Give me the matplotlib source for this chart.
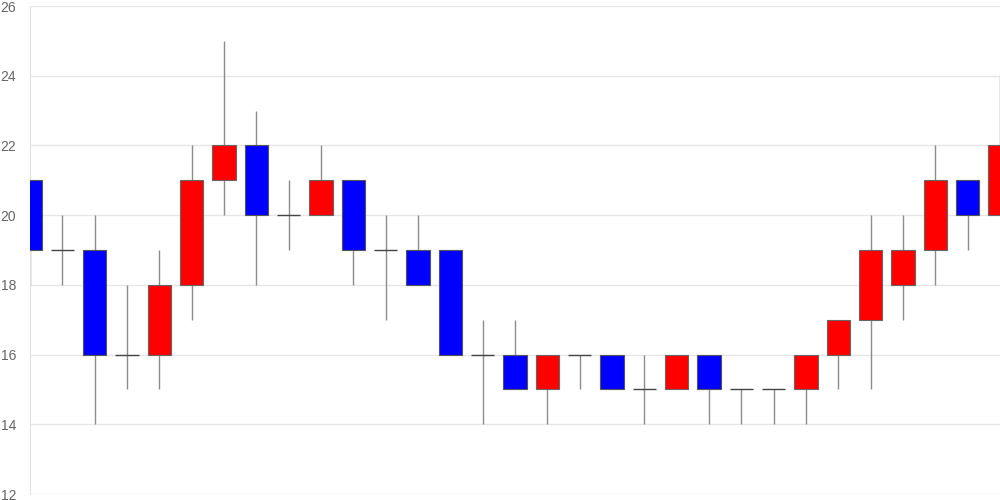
import matplotlib
matplotlib.use("Agg")
import matplotlib.pyplot as plt
import numpy as np

plt.rcParams['font.family'] = ['Liberation Sans', 'DejaVu Sans']

# candle data
opens = [21, 19, 19, 16, 16, 18, 21, 22, 20, 20, 21, 19, 19, 19, 16, 16,
         15, 16, 16, 15, 15, 16, 15, 15, 15, 16, 17, 18, 19, 21, 20]
closes = [19, 19, 16, 16, 18, 21, 22, 20, 20, 21, 19, 19, 18, 16, 16, 15,
          16, 16, 15, 15, 16, 15, 15, 15, 16, 17, 19, 19, 21, 20, 22]
highs = [21, 20, 20, 18, 19, 22, 25, 23, 21, 22, 21, 20, 20, 19, 17, 17,
         16, 16, 16, 16, 16, 16, 15, 15, 16, 17, 20, 20, 22, 21, 24]
lows = [18, 18, 14, 15, 15, 17, 20, 18, 19, 20, 18, 17, 18, 16, 14, 15,
        14, 15, 15, 14, 15, 14, 14, 14, 14, 15, 15, 17, 18, 19, 20]
y_ticks = [12, 14, 16, 18, 20, 22, 24, 26]

x = np.arange(len(opens))
o = np.array(opens)
c = np.array(closes)

fig = plt.figure(figsize=(10, 5), dpi=100)
ax = fig.add_axes([0.03, 0.012, 0.97, 0.976])

ax.vlines(x, lows, highs, color='#8c8c8c', linewidth=1, zorder=2)

up = c > o
down = c < o
flat = c == o
w = 0.72
ax.bar(x[up], (c - o)[up], bottom=o[up], width=w, color='#ff0000',
       edgecolor='#666666', linewidth=0.8, zorder=3)
ax.bar(x[down], (o - c)[down], bottom=c[down], width=w, color='#0000ff',
       edgecolor='#555555', linewidth=0.8, zorder=3)
ax.hlines(o[flat], x[flat] - w / 2, x[flat] + w / 2, color='#444444',
          linewidth=1, zorder=3)

ax.set_xlim(0, len(opens) - 1)
ax.set_ylim(12, 26)
ax.set_yticks(y_ticks)
ax.set_xticks([])
ax.grid(axis='y', color='#e6e6e6', linewidth=1, zorder=0)
ax.set_axisbelow(True)
for s in ['top', 'right', 'bottom']:
    ax.spines[s].set_visible(False)
ax.spines['left'].set_color('#e0e0e0')
ax.tick_params(axis='y', length=0, pad=10, labelsize=10, labelcolor='#666666')

fig.savefig('out.png', dpi=100)
